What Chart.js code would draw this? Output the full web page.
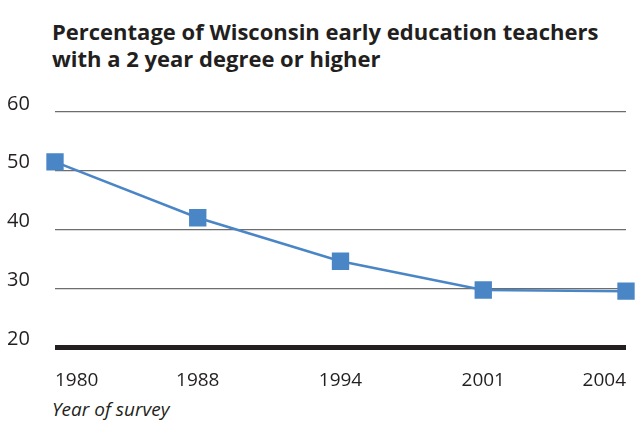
<!DOCTYPE html>
<html lang="en">
<head>
    <meta charset="UTF-8">
    <title>Wisconsin early education teachers</title>
    <script src="https://cdn.jsdelivr.net/npm/chart.js"></script>
    <style>
        html, body {
            margin: 0;
            overflow: hidden;
        }
        body {
            background: #fff;
            font-family: "Open Sans", sans-serif;
            color: #231f20;
        }
        .wrap {
            position: relative;
            width: 635px;
            height: 432px;
        }
        .title {
            position: absolute;
            left: 52px;
            top: 18px;
            font-weight: bold;
            font-size: 22px;
            line-height: 27px;
        }
        .axis-title {
            position: absolute;
            left: 52px;
            top: 396px;
            font-style: italic;
            font-size: 19px;
            line-height: 26px;
        }
        .chart-box {
            position: absolute;
            left: 0;
            top: 84px;
            width: 635px;
            height: 308px;
        }
    </style>
</head>
<body>
    <div class="wrap">
        <div class="title">Percentage of Wisconsin early education teachers<br>with a 2 year degree or higher</div>
        <div class="chart-box"><canvas id="chart"></canvas></div>
        <div class="axis-title">Year of survey</div>
    </div>

    <script>
        // data
        const years = ['1980', '1988', '1994', '2001', '2004'];
        const percentages = [51.5, 42, 34.6, 29.7, 29.5];
        const yTicks = [20, 30, 40, 50, 60];

        const ink = '#231f20';
        const blue = '#4a86c6';

        new Chart(document.getElementById('chart'), {
            type: 'line',
            data: {
                labels: years,
                datasets: [{
                    data: percentages,
                    borderColor: blue,
                    backgroundColor: blue,
                    borderWidth: 2.5,
                    pointStyle: 'rect',
                    pointRadius: 10.5,
                    pointHoverRadius: 10.5,
                    tension: 0,
                    clip: false
                }]
            },
            options: {
                responsive: true,
                maintainAspectRatio: false,
                animation: false,
                layout: { autoPadding: false, padding: { left: 7, right: 9, top: 28, bottom: 0 } },
                plugins: {
                    legend: { display: false },
                    tooltip: { enabled: false }
                },
                scales: {
                    x: {
                        offset: false,
                        grid: { display: false, drawTicks: false },
                        border: { display: false },
                        // end labels sit inside the plot, so no side padding is needed
                        afterFit: axis => {
                            axis.paddingLeft = 0;
                            axis.paddingRight = 0;
                            axis.height = 45;
                        },
                        ticks: {
                            color: ink,
                            padding: 22,
                            align: 'inner',
                            font: { family: 'Open Sans', size: 19 },
                            maxRotation: 0
                        }
                    },
                    y: {
                        min: yTicks[0],
                        max: yTicks[yTicks.length - 1],
                        afterBuildTicks: axis => {
                            axis.ticks = yTicks.map(v => ({ value: v }));
                        },
                        afterFit: axis => { axis.width = 48; },
                        border: { display: false },
                        grid: {
                            drawTicks: false,
                            color: ctx => ctx.tick && ctx.tick.value === yTicks[0] ? ink : '#6d6d6d',
                            lineWidth: ctx => ctx.tick && ctx.tick.value === yTicks[0] ? 5 : 1.3
                        },
                        ticks: {
                            color: ink,
                            crossAlign: 'far',
                            padding: 0,
                            labelOffset: -8,
                            font: { family: 'Open Sans', size: 20 }
                        }
                    }
                }
            }
        });
    </script>
</body>
</html>
